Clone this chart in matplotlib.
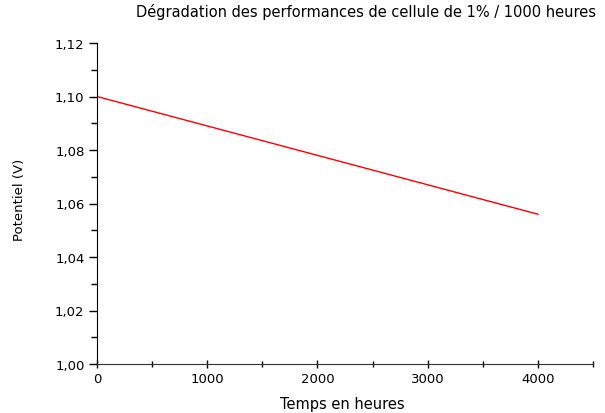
import matplotlib
matplotlib.use("Agg")
import matplotlib.pyplot as plt
from matplotlib.ticker import MultipleLocator, FuncFormatter

hours = [0, 4000]
potential = [1.10, 1.056]
title = "Dégradation des performances de cellule de 1% / 1000 heures"
xlabel = "Temps en heures"
ylabel = "Potentiel (V)"

plt.rcParams['font.family'] = ['DejaVu Sans']

fig = plt.figure(figsize=(6.05, 4.14), dpi=100)
ax = fig.add_axes([97/605, 1-365/414, 496/605, (365-44)/414])
ax.plot(hours, potential, color='red', lw=1)
ax.set_xlim(0, 4500)
ax.set_ylim(1.00, 1.12)
ax.xaxis.set_major_locator(MultipleLocator(1000))
ax.xaxis.set_minor_locator(MultipleLocator(500))
ax.yaxis.set_major_locator(MultipleLocator(0.02))
ax.yaxis.set_minor_locator(MultipleLocator(0.01))
ax.yaxis.set_major_formatter(FuncFormatter(lambda v, p: f"{v:.2f}".replace('.', ',')))
for s in ['top', 'right']:
    ax.spines[s].set_visible(False)
ax.spines['left'].set_color('black')
ax.spines['bottom'].set_color('#333333')
ax.tick_params(which='major', length=6, width=1, labelsize=9.5, direction='out', pad=3)
ax.tick_params(which='minor', length=4, width=1, direction='out')
ax.tick_params(axis='x', which='both', direction='inout')
fig.text(366/605, 1-12/414, title, ha='center', va='center', fontsize=10.5)
fig.text(342/605, 1-405/414, xlabel, ha='center', va='center', fontsize=10.5)
fig.text(20/605, 1-200/414, ylabel, ha='center', va='center', fontsize=9.5, rotation=90)
fig.savefig("out.png", dpi=100)
